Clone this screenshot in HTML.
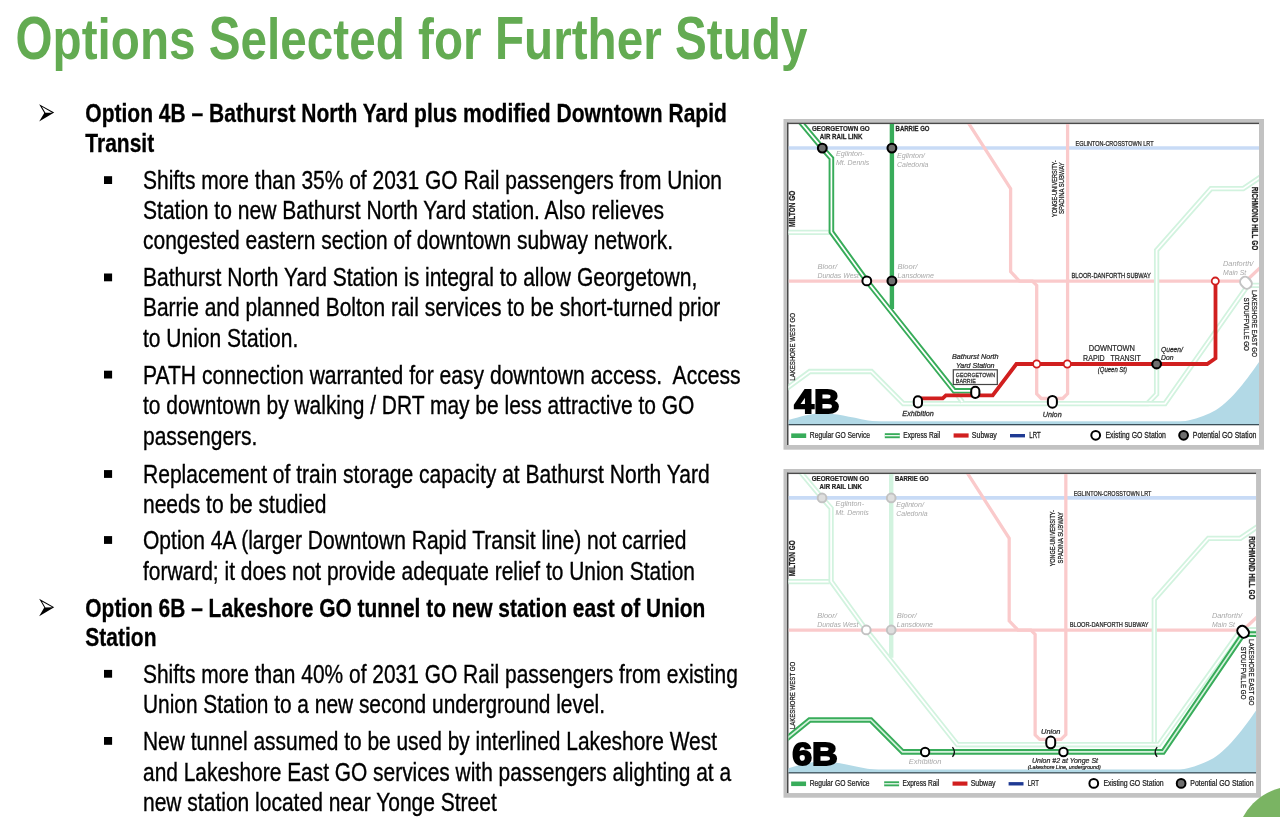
<!DOCTYPE html>
<html><head><meta charset="utf-8"><style>
html,body{margin:0;padding:0;background:#fff;width:1280px;height:817px;overflow:hidden}
svg{display:block;will-change:transform}
text{font-family:'Liberation Sans', sans-serif;white-space:pre}
</style></head><body>
<svg width="1280" height="817" viewBox="0 0 1280 817">
<rect width="1280" height="817" fill="#fff"/>
<text transform="translate(15.50,58.6) scale(0.7906,1.0)" font-size="60.3" font-weight="bold" fill="#63AB52">O</text>
<text transform="translate(52.57,58.6) scale(0.7906,0.95)" font-size="60.3" font-weight="bold" fill="#63AB52">ptions </text>
<text transform="translate(208.80,58.6) scale(0.7906,1.0)" font-size="60.3" font-weight="bold" fill="#63AB52">S</text>
<text transform="translate(240.60,58.6) scale(0.7906,0.95)" font-size="60.3" font-weight="bold" fill="#63AB52">elected for </text>
<text transform="translate(494.92,58.6) scale(0.7906,1.0)" font-size="60.3" font-weight="bold" fill="#63AB52">F</text>
<text transform="translate(524.04,58.6) scale(0.7906,0.95)" font-size="60.3" font-weight="bold" fill="#63AB52">urther </text>
<text transform="translate(675.02,58.6) scale(0.7906,1.0)" font-size="60.3" font-weight="bold" fill="#63AB52">S</text>
<text transform="translate(706.82,58.6) scale(0.7906,0.95)" font-size="60.3" font-weight="bold" fill="#63AB52">tudy</text>
<path d="M39.14,104.17 L54.2,112.56 L39.14,121.6 L44.28,112.9 Z" fill="#000"/><path d="M41.87,106.84 L52.26,112.63 L45.42,112.86 Z" fill="#fff"/>
<text transform="translate(85.3,122.3) scale(0.82402,1)" font-size="25.5" font-weight="bold" font-style="normal" fill="#000" text-anchor="start" stroke="#000" stroke-width="0.3">Option 4B – Bathurst North Yard plus modified Downtown Rapid</text>
<text transform="translate(85.3,151.6) scale(0.8237,1)" font-size="25.5" font-weight="bold" font-style="normal" fill="#000" text-anchor="start" stroke="#000" stroke-width="0.3">Transit</text>
<rect x="104" y="176.2" width="8.1" height="7.8" fill="#000"/>
<text transform="translate(143.0,189.0) scale(0.82263,1)" font-size="25.5" font-weight="normal" font-style="normal" fill="#000" text-anchor="start" stroke="#000" stroke-width="0.35">Shifts more than 35% of 2031 GO Rail passengers from Union</text>
<text transform="translate(143.0,218.8) scale(0.82545,1)" font-size="25.5" font-weight="normal" font-style="normal" fill="#000" text-anchor="start" stroke="#000" stroke-width="0.35">Station to new Bathurst North Yard station. Also relieves</text>
<text transform="translate(143.0,249.0) scale(0.82253,1)" font-size="25.5" font-weight="normal" font-style="normal" fill="#000" text-anchor="start" stroke="#000" stroke-width="0.35">congested eastern section of downtown subway network.</text>
<rect x="104" y="273.5" width="8.1" height="7.8" fill="#000"/>
<text transform="translate(143.0,286.3) scale(0.82489,1)" font-size="25.5" font-weight="normal" font-style="normal" fill="#000" text-anchor="start" stroke="#000" stroke-width="0.35">Bathurst North Yard Station is integral to allow Georgetown,</text>
<text transform="translate(143.0,315.7) scale(0.82128,1)" font-size="25.5" font-weight="normal" font-style="normal" fill="#000" text-anchor="start" stroke="#000" stroke-width="0.35">Barrie and planned Bolton rail services to be short-turned prior</text>
<text transform="translate(143.0,346.6) scale(0.8237,1)" font-size="25.5" font-weight="normal" font-style="normal" fill="#000" text-anchor="start" stroke="#000" stroke-width="0.35">to Union Station.</text>
<rect x="104" y="370.7" width="8.1" height="7.8" fill="#000"/>
<text transform="translate(143.0,383.5) scale(0.82675,1)" font-size="25.5" font-weight="normal" font-style="normal" fill="#000" text-anchor="start" stroke="#000" stroke-width="0.35">PATH connection warranted for easy downtown access.  Access</text>
<text transform="translate(143.0,414.2) scale(0.8225,1)" font-size="25.5" font-weight="normal" font-style="normal" fill="#000" text-anchor="start" stroke="#000" stroke-width="0.35">to downtown by walking / DRT may be less attractive to GO</text>
<text transform="translate(143.0,444.8) scale(0.8237,1)" font-size="25.5" font-weight="normal" font-style="normal" fill="#000" text-anchor="start" stroke="#000" stroke-width="0.35">passengers.</text>
<rect x="104" y="470.1" width="8.1" height="7.8" fill="#000"/>
<text transform="translate(143.0,482.9) scale(0.8256,1)" font-size="25.5" font-weight="normal" font-style="normal" fill="#000" text-anchor="start" stroke="#000" stroke-width="0.35">Replacement of train storage capacity at Bathurst North Yard</text>
<text transform="translate(143.0,512.5) scale(0.8237,1)" font-size="25.5" font-weight="normal" font-style="normal" fill="#000" text-anchor="start" stroke="#000" stroke-width="0.35">needs to be studied</text>
<rect x="104" y="536.1" width="8.1" height="7.8" fill="#000"/>
<text transform="translate(143.0,548.9) scale(0.82492,1)" font-size="25.5" font-weight="normal" font-style="normal" fill="#000" text-anchor="start" stroke="#000" stroke-width="0.35">Option 4A (larger Downtown Rapid Transit line) not carried</text>
<text transform="translate(143.0,579.5) scale(0.82183,1)" font-size="25.5" font-weight="normal" font-style="normal" fill="#000" text-anchor="start" stroke="#000" stroke-width="0.35">forward; it does not provide adequate relief to Union Station</text>
<path d="M39.14,598.87 L54.2,607.26 L39.14,616.3 L44.28,607.6 Z" fill="#000"/><path d="M41.87,601.54 L52.26,607.33 L45.42,607.56 Z" fill="#fff"/>
<text transform="translate(85.3,617.0) scale(0.82131,1)" font-size="25.5" font-weight="bold" font-style="normal" fill="#000" text-anchor="start" stroke="#000" stroke-width="0.3">Option 6B – Lakeshore GO tunnel to new station east of Union</text>
<text transform="translate(85.3,646.0) scale(0.8237,1)" font-size="25.5" font-weight="bold" font-style="normal" fill="#000" text-anchor="start" stroke="#000" stroke-width="0.3">Station</text>
<rect x="104" y="669.9" width="8.1" height="7.8" fill="#000"/>
<text transform="translate(143.0,682.7) scale(0.82148,1)" font-size="25.5" font-weight="normal" font-style="normal" fill="#000" text-anchor="start" stroke="#000" stroke-width="0.35">Shifts more than 40% of 2031 GO Rail passengers from existing</text>
<text transform="translate(143.0,713.0) scale(0.81925,1)" font-size="25.5" font-weight="normal" font-style="normal" fill="#000" text-anchor="start" stroke="#000" stroke-width="0.35">Union Station to a new second underground level.</text>
<rect x="104" y="737.0" width="8.1" height="7.8" fill="#000"/>
<text transform="translate(143.0,749.8) scale(0.82084,1)" font-size="25.5" font-weight="normal" font-style="normal" fill="#000" text-anchor="start" stroke="#000" stroke-width="0.35">New tunnel assumed to be used by interlined Lakeshore West</text>
<text transform="translate(143.0,780.5) scale(0.82021,1)" font-size="25.5" font-weight="normal" font-style="normal" fill="#000" text-anchor="start" stroke="#000" stroke-width="0.35">and Lakeshore East GO services with passengers alighting at a</text>
<text transform="translate(143.0,810.5) scale(0.8237,1)" font-size="25.5" font-weight="normal" font-style="normal" fill="#000" text-anchor="start" stroke="#000" stroke-width="0.35">new station located near Yonge Street</text>
<g><rect x="783.5" y="119" width="480.5" height="330.7" fill="#C2C2C2"/>
<rect x="788.5" y="124" width="470.5" height="321" fill="#fff"/>
<rect x="787" y="122.7" width="472" height="1.4" fill="#4a4a4a"/>
<rect x="787" y="122.7" width="1.4" height="322.3" fill="#4a4a4a"/>
<clipPath id="clip4B"><rect x="788.5" y="124" width="470.5" height="300.6"/></clipPath>
<g clip-path="url(#clip4B)"><path d="M788.5,424.6 L788.5,420 C800,417 810,413.5 822,413.3 C835,413.3 850,417 868,420.5 C885,423 905,424 930,424.6 Z" fill="#B2D9E6"/><path d="M1150,424.6 C1180,424 1200,419 1216,410 C1232,400 1248,378 1259,362 L1259,424.6 Z" fill="#B2D9E6"/><rect x="788.5" y="421.3" width="470.5" height="3.3" fill="#B2D9E6"/><path d="M788.5,148 H1259" fill="none" stroke="#C8DBF6" stroke-width="3.7" stroke-linejoin="miter"/><path d="M788.5,281.1 H1242" fill="none" stroke="#FACACB" stroke-width="3.3" stroke-linejoin="miter"/><path d="M967.8,122 L1010.6,188.7 V271.7 L1019.5,281.1 H1032.4 L1036.7,285.4 V393.9 L1041.3,398.5 H1062.7 L1067.6,393.6 V122" fill="none" stroke="#FACACB" stroke-width="3.3" stroke-linejoin="miter"/><path d="M1245,282 L1262,266" fill="none" stroke="#FACACB" stroke-width="3.3" stroke-linejoin="miter"/><path d="M786,232.4 H830" fill="none" stroke="#D2F3DF" stroke-width="5.3" stroke-linejoin="miter"/><path d="M786,232.4 H830" fill="none" stroke="#fff" stroke-width="1.7" stroke-linejoin="miter"/><path d="M1262,176 L1243.2,188.7 H1211 L1156.6,250.3 V394.2 L1147.5,403.6 H1130" fill="none" stroke="#D2F3DF" stroke-width="5.3" stroke-linejoin="miter"/><path d="M1262,176 L1243.2,188.7 H1211 L1156.6,250.3 V394.2 L1147.5,403.6 H1130" fill="none" stroke="#fff" stroke-width="1.7" stroke-linejoin="miter"/><path d="M1262,285.3 H1248 L1165,403.6 H903.3 L871.4,371.5 H809.7 L786,389" fill="none" stroke="#D2F3DF" stroke-width="5.3" stroke-linejoin="miter"/><path d="M1262,285.3 H1248 L1165,403.6 H903.3 L871.4,371.5 H809.7 L786,389" fill="none" stroke="#fff" stroke-width="1.7" stroke-linejoin="miter"/><path d="M954.2,390.8 L962.4,402" fill="none" stroke="#D2F3DF" stroke-width="5.3" stroke-linejoin="miter"/><path d="M954.2,390.8 L962.4,402" fill="none" stroke="#fff" stroke-width="1.7" stroke-linejoin="miter"/><path d="M891.9,122 V309" fill="none" stroke="#38AC5A" stroke-width="4.4" stroke-linejoin="miter"/><path d="M800.5,122 L822.3,148.1 L831.4,158.4 V232 L866.8,280.9 L954.2,390.8 H972" fill="none" stroke="#38AC5A" stroke-width="5.6" stroke-linejoin="miter"/><path d="M800.5,122 L822.3,148.1 L831.4,158.4 V232 L866.8,280.9 L954.2,390.8 H972" fill="none" stroke="#fff" stroke-width="1.7" stroke-linejoin="miter"/><path d="M921,398.3 H942.7 L945.9,395.3 H992.7 L1016.4,364 H1207.2 L1215.5,358.2 V281.1" fill="none" stroke="#D11F1F" stroke-width="3.8" stroke-linejoin="miter"/></g>
<circle cx="822.3" cy="148.1" r="4.4" fill="#6f6f6f" stroke="#000" stroke-width="2.1"/>
<circle cx="891.9" cy="148.1" r="4.4" fill="#6f6f6f" stroke="#000" stroke-width="2.1"/>
<circle cx="866.8" cy="280.9" r="4.4" fill="#fff" stroke="#000" stroke-width="2.0"/>
<circle cx="891.9" cy="280.9" r="4.4" fill="#6f6f6f" stroke="#000" stroke-width="2.1"/>
<circle cx="1215.3" cy="281.1" r="3.6" fill="#fff" stroke="#D11F1F" stroke-width="1.8"/>
<circle cx="1036.7" cy="364" r="3.6" fill="#fff" stroke="#D11F1F" stroke-width="1.8"/>
<circle cx="1067.3" cy="364" r="3.6" fill="#fff" stroke="#D11F1F" stroke-width="1.8"/>
<circle cx="1156.6" cy="364" r="4.4" fill="#6f6f6f" stroke="#000" stroke-width="2.1"/>
<rect x="913.80" y="396.30" width="8.2" height="11.2" rx="4.1" ry="4.1" fill="#fff" stroke="#000" stroke-width="2.0"/>
<rect x="971.20" y="386.70" width="8.2" height="11.2" rx="4.1" ry="4.1" fill="#fff" stroke="#000" stroke-width="2.0"/>
<rect x="1047.90" y="395.90" width="9.0" height="11.8" rx="4.5" ry="4.5" fill="#fff" stroke="#000" stroke-width="2.0"/>
<rect x="1241" y="276.5" width="10" height="12.5" rx="5" transform="rotate(-40 1246 282.8)" fill="#fff" stroke="#c4c4c4" stroke-width="2"/>
<text transform="translate(840.8,130.6) scale(0.7719,1)" font-size="8.1" font-weight="bold" font-style="normal" fill="#222" text-anchor="middle" stroke="#222" stroke-width="0.25">GEORGETOWN GO</text>
<text transform="translate(841.1,138.9) scale(0.762,1)" font-size="8.1" font-weight="bold" font-style="normal" fill="#222" text-anchor="middle" stroke="#222" stroke-width="0.25">AIR RAIL LINK</text>
<text transform="translate(895.6,130.6) scale(0.7407,1)" font-size="8.1" font-weight="bold" font-style="normal" fill="#222" text-anchor="start" stroke="#222" stroke-width="0.25">BARRIE GO</text>
<text transform="translate(1075.5,145.9) scale(0.6899,1)" font-size="8.0" font-weight="normal" font-style="normal" fill="#222" text-anchor="start" stroke="#222" stroke-width="0.25">EGLINTON-CROSSTOWN LRT</text>
<text transform="translate(1071.5,278.3) scale(0.7155,1)" font-size="8.0" font-weight="normal" font-style="normal" fill="#222" text-anchor="start" stroke="#222" stroke-width="0.25">BLOOR-DANFORTH SUBWAY</text>
<text transform="translate(835.9,156) scale(0.9568,1)" font-size="7.6" font-weight="normal" font-style="italic" fill="#A9A9A9" text-anchor="start" >Eglinton-</text>
<text transform="translate(835.9,165) scale(0.9196,1)" font-size="7.6" font-weight="normal" font-style="italic" fill="#A9A9A9" text-anchor="start" >Mt. Dennis</text>
<text transform="translate(897,157.5) scale(0.9427,1)" font-size="7.6" font-weight="normal" font-style="italic" fill="#A9A9A9" text-anchor="start" >Eglinton/</text>
<text transform="translate(897,166.5) scale(0.9204,1)" font-size="7.6" font-weight="normal" font-style="italic" fill="#A9A9A9" text-anchor="start" >Caledonia</text>
<text transform="translate(817.4,269.2) scale(0.9994,1)" font-size="7.6" font-weight="normal" font-style="italic" fill="#A9A9A9" text-anchor="start" >Bloor/</text>
<text transform="translate(817.4,277.9) scale(0.9136,1)" font-size="7.6" font-weight="normal" font-style="italic" fill="#A9A9A9" text-anchor="start" >Dundas West</text>
<text transform="translate(897.5,269.2) scale(0.9994,1)" font-size="7.6" font-weight="normal" font-style="italic" fill="#A9A9A9" text-anchor="start" >Bloor/</text>
<text transform="translate(897.5,277.9) scale(0.9389,1)" font-size="7.6" font-weight="normal" font-style="italic" fill="#A9A9A9" text-anchor="start" >Lansdowne</text>
<text transform="translate(1223,266) scale(0.9714,1)" font-size="7.6" font-weight="normal" font-style="italic" fill="#A9A9A9" text-anchor="start" >Danforth/</text>
<text transform="translate(1223,274.5) scale(0.9028,1)" font-size="7.6" font-weight="normal" font-style="italic" fill="#A9A9A9" text-anchor="start" >Main St</text>
<text transform="translate(794.8,208.8) rotate(-90) scale(0.7942,1)" font-size="8.2" font-weight="bold" fill="#222" stroke="#222" stroke-width="0.25" text-anchor="middle">MILTON GO</text>
<text transform="translate(794.9,346.9) rotate(-90) scale(0.7639,1)" font-size="8.0" font-weight="normal" fill="#222" stroke="#222" stroke-width="0.25" text-anchor="middle">LAKESHORE WEST GO</text>
<text transform="translate(1057.0,188.7) rotate(-90) scale(0.7123,1)" font-size="7.8" font-weight="normal" fill="#222" stroke="#222" stroke-width="0.25" text-anchor="middle">YONGE-UNIVERSITY-</text>
<text transform="translate(1064.4,188.2) rotate(-90) scale(0.7551,1)" font-size="7.8" font-weight="normal" fill="#222" stroke="#222" stroke-width="0.25" text-anchor="middle">SPADINA SUBWAY</text>
<text transform="translate(1252.3,218.5) rotate(90) scale(0.7903,1)" font-size="8.2" font-weight="bold" fill="#222" stroke="#222" stroke-width="0.25" text-anchor="middle">RICHMOND HILL GO</text>
<text transform="translate(1252.0,323.5) rotate(90) scale(0.7742,1)" font-size="8.0" font-weight="normal" fill="#222" stroke="#222" stroke-width="0.25" text-anchor="middle">LAKESHORE EAST GO</text>
<text transform="translate(1243.9,324.2) rotate(90) scale(0.7832,1)" font-size="8.0" font-weight="normal" fill="#222" stroke="#222" stroke-width="0.25" text-anchor="middle">STOUFFVILLE GO</text>
<text transform="translate(918.1,416.2) scale(0.9373,1)" font-size="7.8" font-weight="normal" font-style="italic" fill="#2a2a2a" text-anchor="middle" stroke="#2a2a2a" stroke-width="0.25">Exhibition</text>
<text transform="translate(1052.2,416.5) scale(0.9273,1)" font-size="7.8" font-weight="normal" font-style="italic" fill="#2a2a2a" text-anchor="middle" stroke="#2a2a2a" stroke-width="0.25">Union</text>
<text transform="translate(975.3,359.2) scale(0.9307,1)" font-size="7.8" font-weight="normal" font-style="italic" fill="#2a2a2a" text-anchor="middle" stroke="#2a2a2a" stroke-width="0.25">Bathurst North</text>
<text transform="translate(975.3,367.5) scale(0.9115,1)" font-size="7.8" font-weight="normal" font-style="italic" fill="#2a2a2a" text-anchor="middle" stroke="#2a2a2a" stroke-width="0.25">Yard Station</text>
<rect x="953.3" y="369.8" width="44" height="14.7" fill="#fff" stroke="#444" stroke-width="1.2"/>
<text transform="translate(955.8,376.6) scale(0.8865,1)" font-size="6.0" font-weight="normal" font-style="normal" fill="#333" text-anchor="start" stroke="#333" stroke-width="0.25">GEORGETOWN</text>
<text transform="translate(955.8,382.8) scale(0.8953,1)" font-size="6.0" font-weight="normal" font-style="normal" fill="#333" text-anchor="start" stroke="#333" stroke-width="0.25">BARRIE</text>
<text transform="translate(1111.9,351.2) scale(0.8009,1)" font-size="9.3" font-weight="normal" font-style="normal" fill="#2a2a2a" text-anchor="middle" stroke="#2a2a2a" stroke-width="0.25">DOWNTOWN</text>
<text transform="translate(1111.9,360.7) scale(0.7614,1)" font-size="9.3" font-weight="normal" font-style="normal" fill="#2a2a2a" text-anchor="middle" stroke="#2a2a2a" stroke-width="0.25">RAPID   TRANSIT</text>
<text transform="translate(1112.4,371.6) scale(0.9046,1)" font-size="6.6" font-weight="normal" font-style="italic" fill="#2a2a2a" text-anchor="middle" stroke="#2a2a2a" stroke-width="0.25">(Queen St)</text>
<text transform="translate(1161,351.6) scale(0.857,1)" font-size="7.8" font-weight="normal" font-style="italic" fill="#2a2a2a" text-anchor="start" stroke="#2a2a2a" stroke-width="0.25">Queen/</text>
<text transform="translate(1161,360.2) scale(0.8738,1)" font-size="7.8" font-weight="normal" font-style="italic" fill="#2a2a2a" text-anchor="start" stroke="#2a2a2a" stroke-width="0.25">Don</text>
<text transform="translate(794.3,412.9) scale(1.06,1)" font-size="33.5" font-weight="bold" font-style="normal" fill="#000" text-anchor="start" stroke="#000" stroke-width="1.8">4B</text>
<rect x="788.5" y="424" width="470.5" height="1.3" fill="#3c4f58"/>
<rect x="791.2" y="433.4" width="15" height="4.6" fill="#38AC5A"/>
<text transform="translate(809.8,438.2) scale(0.7941,1)" font-size="8.5" font-weight="normal" font-style="normal" fill="#222" text-anchor="start" stroke="#222" stroke-width="0.25">Regular GO Service</text>
<rect x="884.8" y="433.2" width="15" height="5" fill="#38AC5A"/><rect x="884.8" y="435.1" width="15" height="1.2" fill="#fff"/>
<text transform="translate(903.3,438.2) scale(0.7755,1)" font-size="8.5" font-weight="normal" font-style="normal" fill="#222" text-anchor="start" stroke="#222" stroke-width="0.25">Express Rail</text>
<rect x="953.6" y="433.4" width="15" height="4.2" fill="#D11F1F"/>
<text transform="translate(971.8,438.2) scale(0.8299,1)" font-size="8.5" font-weight="normal" font-style="normal" fill="#222" text-anchor="start" stroke="#222" stroke-width="0.25">Subway</text>
<rect x="1010" y="434" width="15" height="3.4" fill="#1f3a93"/>
<text transform="translate(1029.3,438.2) scale(0.7105,1)" font-size="8.5" font-weight="normal" font-style="normal" fill="#222" text-anchor="start" stroke="#222" stroke-width="0.25">LRT</text>
<circle cx="1095.7" cy="435.3" r="4.4" fill="#fff" stroke="#000" stroke-width="2.0"/>
<text transform="translate(1105.4,438.2) scale(0.8184,1)" font-size="8.5" font-weight="normal" font-style="normal" fill="#222" text-anchor="start" stroke="#222" stroke-width="0.25">Existing GO Station</text>
<circle cx="1183.6" cy="435.3" r="4.4" fill="#6f6f6f" stroke="#000" stroke-width="2.0"/>
<text transform="translate(1192.8,438.2) scale(0.8234,1)" font-size="8.5" font-weight="normal" font-style="normal" fill="#222" text-anchor="start" stroke="#222" stroke-width="0.25">Potential GO Station</text></g>
<g transform="translate(783.5,469) scale(0.9938,0.994) translate(-783.5,-119)"><rect x="783.5" y="119" width="480.5" height="330.7" fill="#C2C2C2"/>
<rect x="788.5" y="124" width="470.5" height="321" fill="#fff"/>
<rect x="787" y="122.7" width="472" height="1.4" fill="#4a4a4a"/>
<rect x="787" y="122.7" width="1.4" height="322.3" fill="#4a4a4a"/>
<clipPath id="clip6B"><rect x="788.5" y="124" width="470.5" height="300.6"/></clipPath>
<g clip-path="url(#clip6B)"><path d="M788.5,424.6 L788.5,420 C800,417 810,413.5 822,413.3 C835,413.3 850,417 868,420.5 C885,423 905,424 930,424.6 Z" fill="#B2D9E6"/><path d="M1150,424.6 C1180,424 1200,419 1216,410 C1232,400 1248,378 1259,362 L1259,424.6 Z" fill="#B2D9E6"/><rect x="788.5" y="421.3" width="470.5" height="3.3" fill="#B2D9E6"/><path d="M788.5,148 H1259" fill="none" stroke="#C8DBF6" stroke-width="3.7" stroke-linejoin="miter"/><path d="M788.5,281.1 H1242" fill="none" stroke="#FACACB" stroke-width="3.3" stroke-linejoin="miter"/><path d="M967.8,122 L1010.6,188.7 V271.7 L1019.5,281.1 H1032.4 L1036.7,285.4 V386.5 L1041.3,391.1 H1062.7 L1067.6,386.2 V122" fill="none" stroke="#FACACB" stroke-width="3.3" stroke-linejoin="miter"/><path d="M1245,282 L1262,266" fill="none" stroke="#FACACB" stroke-width="3.3" stroke-linejoin="miter"/><path d="M786,232.4 H830" fill="none" stroke="#D2F3DF" stroke-width="5.3" stroke-linejoin="miter"/><path d="M786,232.4 H830" fill="none" stroke="#fff" stroke-width="1.7" stroke-linejoin="miter"/><path d="M1262,176 L1243.2,188.7 H1211 L1156.6,250.3 V396.2 H958.5 L866.8,280.9 L831.4,232 V158.4 L822.3,148.1 L800.5,122" fill="none" stroke="#D2F3DF" stroke-width="5.3" stroke-linejoin="miter"/><path d="M1262,176 L1243.2,188.7 H1211 L1156.6,250.3 V396.2 H958.5 L866.8,280.9 L831.4,232 V158.4 L822.3,148.1 L800.5,122" fill="none" stroke="#fff" stroke-width="1.7" stroke-linejoin="miter"/><path d="M891.9,122 V309" fill="none" stroke="#D2F3DF" stroke-width="4.4" stroke-linejoin="miter"/><path d="M1262,280.7 H1244 L1161.3,396.2 H960" fill="none" stroke="#D2F3DF" stroke-width="5.3" stroke-linejoin="miter"/><path d="M1262,280.7 H1244 L1161.3,396.2 H960" fill="none" stroke="#fff" stroke-width="1.7" stroke-linejoin="miter"/><path d="M786,391 L809.7,371.5 H871.4 L903.3,403.6 H1165.5 L1246.1,285.1 H1262" fill="none" stroke="#38AC5A" stroke-width="5.6" stroke-linejoin="miter"/><path d="M786,391 L809.7,371.5 H871.4 L903.3,403.6 H1165.5 L1246.1,285.1 H1262" fill="none" stroke="#d6f2de" stroke-width="1.7" stroke-linejoin="miter"/></g>
<circle cx="822.3" cy="148.1" r="4.4" fill="#dedede" stroke="#c2c2c2" stroke-width="2.0"/>
<circle cx="891.9" cy="148.1" r="4.4" fill="#dedede" stroke="#c2c2c2" stroke-width="2.0"/>
<circle cx="866.8" cy="280.9" r="4.4" fill="#fff" stroke="#c2c2c2" stroke-width="2.0"/>
<circle cx="891.9" cy="280.9" r="4.4" fill="#dedede" stroke="#c2c2c2" stroke-width="2.0"/>
<circle cx="926.0" cy="403.7" r="4.2" fill="#fff" stroke="#000" stroke-width="2.0"/>
<rect x="1047.90" y="388.20" width="9.0" height="11.8" rx="4.5" ry="4.5" fill="#fff" stroke="#000" stroke-width="2.0"/>
<circle cx="1065.2" cy="403.7" r="4.2" fill="#fff" stroke="#000" stroke-width="2.0"/>
<rect x="1241" y="276.5" width="10" height="12.5" rx="5" transform="rotate(-40 1246 282.8)" fill="#fff" stroke="#000" stroke-width="2.1"/>
<path d="M953.5,398.8 Q957.5,403.7 953.5,408.6" fill="none" stroke="#111" stroke-width="1.4"/>
<path d="M1159.5,398.8 Q1155.5,403.7 1159.5,408.6" fill="none" stroke="#111" stroke-width="1.4"/>
<text transform="translate(840.8,130.6) scale(0.7719,1)" font-size="8.1" font-weight="bold" font-style="normal" fill="#222" text-anchor="middle" stroke="#222" stroke-width="0.25">GEORGETOWN GO</text>
<text transform="translate(841.1,138.9) scale(0.762,1)" font-size="8.1" font-weight="bold" font-style="normal" fill="#222" text-anchor="middle" stroke="#222" stroke-width="0.25">AIR RAIL LINK</text>
<text transform="translate(895.6,130.6) scale(0.7407,1)" font-size="8.1" font-weight="bold" font-style="normal" fill="#222" text-anchor="start" stroke="#222" stroke-width="0.25">BARRIE GO</text>
<text transform="translate(1075.5,145.9) scale(0.6899,1)" font-size="8.0" font-weight="normal" font-style="normal" fill="#222" text-anchor="start" stroke="#222" stroke-width="0.25">EGLINTON-CROSSTOWN LRT</text>
<text transform="translate(1071.5,278.3) scale(0.7155,1)" font-size="8.0" font-weight="normal" font-style="normal" fill="#222" text-anchor="start" stroke="#222" stroke-width="0.25">BLOOR-DANFORTH SUBWAY</text>
<text transform="translate(835.9,156) scale(0.9568,1)" font-size="7.6" font-weight="normal" font-style="italic" fill="#A9A9A9" text-anchor="start" >Eglinton-</text>
<text transform="translate(835.9,165) scale(0.9196,1)" font-size="7.6" font-weight="normal" font-style="italic" fill="#A9A9A9" text-anchor="start" >Mt. Dennis</text>
<text transform="translate(897,157.5) scale(0.9427,1)" font-size="7.6" font-weight="normal" font-style="italic" fill="#A9A9A9" text-anchor="start" >Eglinton/</text>
<text transform="translate(897,166.5) scale(0.9204,1)" font-size="7.6" font-weight="normal" font-style="italic" fill="#A9A9A9" text-anchor="start" >Caledonia</text>
<text transform="translate(817.4,269.2) scale(0.9994,1)" font-size="7.6" font-weight="normal" font-style="italic" fill="#A9A9A9" text-anchor="start" >Bloor/</text>
<text transform="translate(817.4,277.9) scale(0.9136,1)" font-size="7.6" font-weight="normal" font-style="italic" fill="#A9A9A9" text-anchor="start" >Dundas West</text>
<text transform="translate(897.5,269.2) scale(0.9994,1)" font-size="7.6" font-weight="normal" font-style="italic" fill="#A9A9A9" text-anchor="start" >Bloor/</text>
<text transform="translate(897.5,277.9) scale(0.9389,1)" font-size="7.6" font-weight="normal" font-style="italic" fill="#A9A9A9" text-anchor="start" >Lansdowne</text>
<text transform="translate(1214.6,269.4) scale(0.9714,1)" font-size="7.6" font-weight="normal" font-style="italic" fill="#A9A9A9" text-anchor="start" >Danforth/</text>
<text transform="translate(1214.6,277.6) scale(0.9028,1)" font-size="7.6" font-weight="normal" font-style="italic" fill="#A9A9A9" text-anchor="start" >Main St</text>
<text transform="translate(794.8,208.8) rotate(-90) scale(0.7942,1)" font-size="8.2" font-weight="bold" fill="#222" stroke="#222" stroke-width="0.25" text-anchor="middle">MILTON GO</text>
<text transform="translate(794.9,346.9) rotate(-90) scale(0.7639,1)" font-size="8.0" font-weight="normal" fill="#222" stroke="#222" stroke-width="0.25" text-anchor="middle">LAKESHORE WEST GO</text>
<text transform="translate(1057.0,188.7) rotate(-90) scale(0.7123,1)" font-size="7.8" font-weight="normal" fill="#222" stroke="#222" stroke-width="0.25" text-anchor="middle">YONGE-UNIVERSITY-</text>
<text transform="translate(1064.4,188.2) rotate(-90) scale(0.7551,1)" font-size="7.8" font-weight="normal" fill="#222" stroke="#222" stroke-width="0.25" text-anchor="middle">SPADINA SUBWAY</text>
<text transform="translate(1252.3,218.5) rotate(90) scale(0.7903,1)" font-size="8.2" font-weight="bold" fill="#222" stroke="#222" stroke-width="0.25" text-anchor="middle">RICHMOND HILL GO</text>
<text transform="translate(1252.0,323.5) rotate(90) scale(0.7742,1)" font-size="8.0" font-weight="normal" fill="#222" stroke="#222" stroke-width="0.25" text-anchor="middle">LAKESHORE EAST GO</text>
<text transform="translate(1243.9,324.2) rotate(90) scale(0.7832,1)" font-size="8.0" font-weight="normal" fill="#222" stroke="#222" stroke-width="0.25" text-anchor="middle">STOUFFVILLE GO</text>
<text transform="translate(926,415.8) scale(0.9698,1)" font-size="7.8" font-weight="normal" font-style="italic" fill="#A9A9A9" text-anchor="middle" >Exhibition</text>
<text transform="translate(1052.4,385.6) scale(0.9568,1)" font-size="7.8" font-weight="normal" font-style="italic" fill="#2a2a2a" text-anchor="middle" stroke="#2a2a2a" stroke-width="0.25">Union</text>
<text transform="translate(1066.8,414.8) scale(0.9044,1)" font-size="7.8" font-weight="normal" font-style="italic" fill="#2a2a2a" text-anchor="middle" stroke="#2a2a2a" stroke-width="0.25">Union #2 at Yonge St</text>
<text transform="translate(1066.0,420.8) scale(1.0307,1)" font-size="5.2" font-weight="normal" font-style="italic" fill="#2a2a2a" text-anchor="middle" stroke="#2a2a2a" stroke-width="0.25">(Lakeshore Line, underground)</text>
<text transform="translate(792.3,417.0) scale(1.12,1)" font-size="32.0" font-weight="bold" font-style="normal" fill="#000" text-anchor="start" stroke="#000" stroke-width="1.8">6B</text>
<rect x="788.5" y="424" width="470.5" height="1.3" fill="#3c4f58"/>
<rect x="791.2" y="433.4" width="15" height="4.6" fill="#38AC5A"/>
<text transform="translate(809.8,438.2) scale(0.7941,1)" font-size="8.5" font-weight="normal" font-style="normal" fill="#222" text-anchor="start" stroke="#222" stroke-width="0.25">Regular GO Service</text>
<rect x="884.8" y="433.2" width="15" height="5" fill="#38AC5A"/><rect x="884.8" y="435.1" width="15" height="1.2" fill="#fff"/>
<text transform="translate(903.3,438.2) scale(0.7755,1)" font-size="8.5" font-weight="normal" font-style="normal" fill="#222" text-anchor="start" stroke="#222" stroke-width="0.25">Express Rail</text>
<rect x="953.6" y="433.4" width="15" height="4.2" fill="#D11F1F"/>
<text transform="translate(971.8,438.2) scale(0.8299,1)" font-size="8.5" font-weight="normal" font-style="normal" fill="#222" text-anchor="start" stroke="#222" stroke-width="0.25">Subway</text>
<rect x="1010" y="434" width="15" height="3.4" fill="#1f3a93"/>
<text transform="translate(1029.3,438.2) scale(0.7105,1)" font-size="8.5" font-weight="normal" font-style="normal" fill="#222" text-anchor="start" stroke="#222" stroke-width="0.25">LRT</text>
<circle cx="1095.7" cy="435.3" r="4.4" fill="#fff" stroke="#000" stroke-width="2.0"/>
<text transform="translate(1105.4,438.2) scale(0.8184,1)" font-size="8.5" font-weight="normal" font-style="normal" fill="#222" text-anchor="start" stroke="#222" stroke-width="0.25">Existing GO Station</text>
<circle cx="1183.6" cy="435.3" r="4.4" fill="#6f6f6f" stroke="#000" stroke-width="2.0"/>
<text transform="translate(1192.8,438.2) scale(0.8234,1)" font-size="8.5" font-weight="normal" font-style="normal" fill="#222" text-anchor="start" stroke="#222" stroke-width="0.25">Potential GO Station</text></g>
<circle cx="1294" cy="844" r="57.7" fill="#7AB463"/>
</svg>
</body></html>
